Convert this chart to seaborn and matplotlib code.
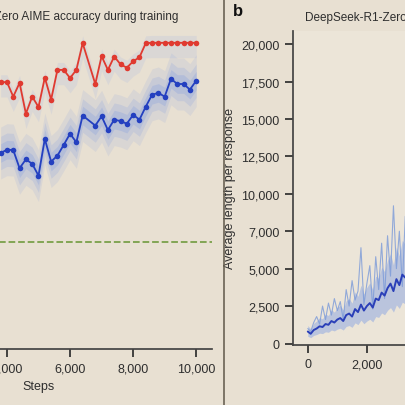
import matplotlib
matplotlib.use("Agg")
import matplotlib.pyplot as plt
import seaborn as sns
import numpy as np
import pandas as pd

sns.set_theme(style="ticks")
plt.rcParams['font.family'] = ['Liberation Sans', 'DejaVu Sans']

# Panel a: AIME accuracy
steps_a = [3800,4000,4200,4400,4600,4800,5000,5200,5400,5600,5800,6000,6200,6400,
           6800,7000,7200,7400,7600,7800,8000,8200,8400,8600,8800,9000,9200,9400,9600,9800,10000]
cons16 = [0.761,0.761,0.722,0.759,0.676,0.722,0.694,0.773,0.714,0.794,0.794,0.772,0.794,0.866,
          0.756,0.831,0.794,0.830,0.809,0.800,0.817,0.828,0.866,0.867,0.867,0.867,0.867,0.867,0.867,0.867,0.867]
pass1 = [0.570,0.579,0.578,0.529,0.553,0.541,0.509,0.608,0.547,0.563,0.592,0.622,0.599,0.671,
         0.644,0.669,0.632,0.660,0.656,0.649,0.673,0.660,0.695,0.727,0.732,0.722,0.770,0.756,0.756,0.741,0.765]
baseline = 0.33

# Panel b: response length
steps_b = list(range(0, 3400, 100))
len_mean = [800,650,900,1000,1150,1100,1300,1250,1500,1400,1600,1700,1500,1900,2000,1800,2300,2100,
            2600,2200,2500,2700,2400,3000,2900,3400,3200,3700,4000,3500,4300,3900,4600,4400]
len_raw = [1000,800,1400,1800,1300,2500,1600,2700,1900,3000,2200,2800,1600,3600,2500,4200,2900,3500,
           6400,2600,4000,5200,2300,5800,3600,6700,3000,7200,4500,9200,5000,7500,3800,8500]
ytick_vals = [0,2500,5000,7500,10000,12500,15000,17500,20000]
ytick_labels = ['0','2,500','5,000','7,000','10,000','12,500','15,000','17,500','20,000']

bg = '#e8e0d2'
txt = '#2e2e2e'
W = H = 406
fig = plt.figure(figsize=(4.06, 4.06), dpi=100, facecolor=bg)

def box(l, r, t, b):
    return [l / W, 1 - b / H, (r - l) / W, (b - t) / H]

# ---- panel a
ax1 = fig.add_axes(box(-135, 212, 13, 350), facecolor=bg)
da = pd.DataFrame({'step': steps_a, 'cons': cons16, 'pass': pass1})
for w, a in [(0.07, 0.10), (0.045, 0.14), (0.025, 0.18)]:
    ax1.fill_between(da.step, da['pass'] - w, da['pass'] + w, color='#5b82e6', alpha=a, lw=0)
ax1.fill_between(da.step, da['cons'] - 0.04, da['cons'] + 0.02, color='#8fa8ea', alpha=0.15, lw=0)
sns.lineplot(data=da, x='step', y='cons', ax=ax1, color='#e03a30', marker='o', markersize=4,
             markeredgewidth=0, lw=1.3)
sns.lineplot(data=da, x='step', y='pass', ax=ax1, color='#2440c0', marker='o', markersize=4,
             markeredgewidth=0, lw=1.3)
ax1.axhline(baseline, color='#7aa04a', ls='--', lw=1.3)
ax1.set_xlim(-500, 10500)
ax1.set_ylim(0.042, 0.95)
ax1.set_xticks([4000, 6000, 8000, 10000])
ax1.set_xticklabels(['4,000', '6,000', '8,000', '10,000'])
ax1.set_yticks([])
ax1.set_xlabel('Steps', color=txt, fontsize=9)
ax1.set_ylabel('')
for s in ['top', 'right', 'left']:
    ax1.spines[s].set_visible(False)
ax1.spines['bottom'].set_color('#444')
ax1.tick_params(colors=txt, labelsize=9)
fig.text(178 / W, 1 - 17 / H, 'DeepSeek-R1-Zero AIME accuracy during training',
         ha='right', va='center', fontsize=8.5, color=txt)

# divider between panels
fig.add_artist(plt.Line2D([224 / W, 224 / W], [0, 1], color='#6b6355', lw=1.2))

# ---- panel b
ax2 = fig.add_axes(box(293, 618, 32, 346), facecolor='#ece5d8')
db = pd.DataFrame({'step': steps_b, 'mean': len_mean, 'raw': len_raw})
ax2.fill_between(db.step, db['mean'] * 0.6, db['mean'] * 1.5, color='#6f93e6', alpha=0.4, lw=0)
sns.lineplot(data=db, x='step', y='raw', ax=ax2, color='#7b9ad8', lw=0.8, alpha=0.8)
sns.lineplot(data=db, x='step', y='mean', ax=ax2, color='#2a3fb8', lw=1.4)
ax2.set_xlim(-500, 10500)
ax2.set_ylim(-100, 20875)
ax2.set_xticks([0, 2000, 4000, 6000, 8000, 10000])
ax2.set_xticklabels(['0', '2,000', '4,000', '6,000', '8,000', '10,000'])
ax2.set_yticks(ytick_vals)
ax2.set_yticklabels(ytick_labels)
ax2.set_xlabel('')
ax2.set_ylabel('Average length per response', color=txt, fontsize=9)
for s in ['top', 'right']:
    ax2.spines[s].set_visible(False)
for s in ['left', 'bottom']:
    ax2.spines[s].set_color('#444')
ax2.tick_params(colors=txt, labelsize=9)
fig.text(305 / W, 1 - 18 / H, 'DeepSeek-R1-Zero average length per response during training',
         ha='left', va='center', fontsize=8.5, color=txt)
fig.text(233 / W, 1 - 11 / H, 'b', ha='left', va='center', fontsize=12, fontweight='bold', color='#111')

fig.savefig('out.png', dpi=100, facecolor=bg)
